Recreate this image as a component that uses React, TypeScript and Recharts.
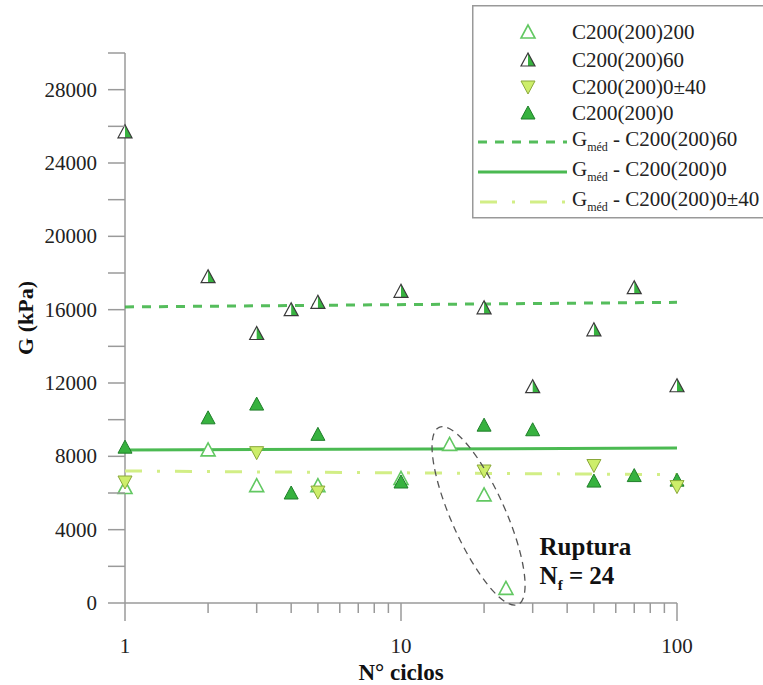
import React from "react"
import { ScatterChart, Scatter, XAxis, YAxis, ReferenceDot } from "recharts"

// N° of cycles for each test series
const cycles200 = [1, 2, 3, 5, 10, 15, 20, 24]
const cycles60 = [1, 2, 3, 4, 5, 10, 20, 30, 50, 70, 100]
const cycles040 = [1, 3, 5, 20, 50, 100]
const cycles0 = [1, 2, 3, 4, 5, 10, 20, 30, 50, 70, 100]

// G (kPa)
const g200 = [6300, 8350, 6400, 6400, 6800, 8650, 5900, 800]
const g60 = [25700, 17800, 14700, 16000, 16400, 17000, 16100, 11800, 14900, 17200, 11850]
const g040 = [6600, 8200, 6050, 7200, 7500, 6350]
const g0 = [8500, 10100, 10850, 6000, 9200, 6600, 9700, 9450, 6650, 6950, 6700]

// mean G lines (start / end)
const medCycles = [1, 100]
const med60 = [16150, 16400]
const med0 = [8350, 8450]
const med040 = [7200, 7000]

const xTicks = [1, 2, 3, 4, 5, 6, 7, 8, 9, 10, 20, 30, 40, 50, 60, 70, 80, 90, 100]
const xLabels = [1, 10, 100]
const yTicks = [0, 2000, 4000, 6000, 8000, 10000, 12000, 14000, 16000, 18000, 20000, 22000, 24000, 26000, 28000, 30000]
const yLabels = [0, 4000, 8000, 12000, 16000, 20000, 24000, 28000]

const legendNames = [
  "C200(200)200",
  "C200(200)60",
  "C200(200)0±40",
  "C200(200)0",
  "C200(200)60",
  "C200(200)0",
  "C200(200)0±40",
]

const toPts = (xs: number[], ys: number[]) => xs.map((x, i) => ({ x, y: ys[i] }))

const FONT = "Liberation Serif"
const AXIS = "#9a9a9a"
const GREEN = "#37b23f"
const DARK_GREEN = "#1f7f2a"
const LIGHT = "#62c862"
const YELLOW = "#cdee6a"
const YELLOW_EDGE = "#8aa83a"
const DASHDOT = "#d2ee86"

const txt = { fontFamily: FONT }

const triPts = (cx: number, cy: number, up = true) => {
  const h = up ? 1 : -1
  return `${cx},${cy - 7 * h} ${cx - 7},${cy + 6 * h} ${cx + 7},${cy + 6 * h}`
}

const Hollow = ({ cx, cy }: any) => (
  <polygon points={triPts(cx, cy)} fill="#fff" stroke={LIGHT} strokeWidth={1.6} />
)
const Half = ({ cx, cy }: any) => (
  <g>
    <polygon points={triPts(cx, cy)} fill="#fff" />
    <polygon points={`${cx},${cy - 7} ${cx + 7},${cy + 6} ${cx},${cy + 6}`} fill={GREEN} />
    <polygon points={triPts(cx, cy)} fill="none" stroke="#3a3a3a" strokeWidth={1.2} />
  </g>
)
const Filled = ({ cx, cy }: any) => (
  <polygon points={triPts(cx, cy)} fill={GREEN} stroke={DARK_GREEN} strokeWidth={1} />
)
const Inverted = ({ cx, cy }: any) => (
  <polygon points={triPts(cx, cy, false)} fill={YELLOW} stroke={YELLOW_EDGE} strokeWidth={1} />
)
const NoDot = () => <g />

const XTick = ({ x, y, payload }: any) => {
  const major = xLabels.includes(payload.value)
  return (
    <g>
      <line x1={x} y1={y} x2={x} y2={y + (major ? 18 : 10)} stroke={AXIS} strokeWidth={1.5} />
      {major && (
        <text x={x} y={y + 50} textAnchor="middle" fontSize={21} style={txt} fill="#222">
          {payload.value}
        </text>
      )}
    </g>
  )
}

const YTick = ({ x, y, payload }: any) => (
  <g>
    <line x1={x - 17} y1={y} x2={x} y2={y} stroke={AXIS} strokeWidth={1.5} />
    {yLabels.includes(payload.value) && (
      <text x={x - 28} y={y + 7} textAnchor="end" fontSize={21} style={txt} fill="#222">
        {payload.value}
      </text>
    )}
  </g>
)

const Rupture = ({ cx, cy }: any) => (
  <g>
    <ellipse
      cx={cx}
      cy={cy}
      rx={27}
      ry={97}
      transform={`rotate(-24 ${cx} ${cy})`}
      fill="none"
      stroke="#555"
      strokeWidth={1.3}
      strokeDasharray="7 5"
    />
    <text x={cx + 61} y={cy + 39} fontSize={25} fontWeight="bold" style={txt} fill="#111">
      Ruptura
    </text>
    <text x={cx + 61} y={cy + 68} fontSize={25} fontWeight="bold" style={txt} fill="#111">
      N<tspan fontSize={15} dy={6}>f</tspan>
      <tspan dy={-6}> = 24</tspan>
    </text>
  </g>
)

const LegendBox = () => {
  const rows = [27, 55, 82, 108, 137, 167, 197]
  const ix = 56
  const tx = 100
  return (
    <svg width={300} height={214} style={{ position: "absolute", left: 472, top: 5 }}>
      <rect x={0.75} y={0.75} width={310} height={212} fill="#fff" stroke="#999" strokeWidth={1.5} />
      <Hollow cx={ix} cy={rows[0]} />
      <Half cx={ix} cy={rows[1]} />
      <Inverted cx={ix} cy={rows[2]} />
      <Filled cx={ix} cy={rows[3]} />
      <line x1={6} x2={95} y1={rows[4]} y2={rows[4]} stroke={GREEN} strokeWidth={3} strokeDasharray="9 8" opacity={0.85} />
      <line x1={6} x2={95} y1={rows[5]} y2={rows[5]} stroke={GREEN} strokeWidth={3} opacity={0.9} />
      <line x1={8} x2={95} y1={rows[6]} y2={rows[6]} stroke={DASHDOT} strokeWidth={3} strokeDasharray="17 15 3 15" />
      {legendNames.map((name, i) =>
        i < 4 ? (
          <text key={i} x={tx} y={rows[i] + 7} fontSize={21} style={txt} fill="#222">
            {name}
          </text>
        ) : (
          <text key={i} x={tx} y={rows[i] + 4} fontSize={21} style={txt} fill="#222">
            G<tspan fontSize={12} dy={5}>méd</tspan>
            <tspan dy={-5}> - {name}</tspan>
          </text>
        )
      )}
    </svg>
  )
}

export default function App() {
  return (
    <div style={{ position: "absolute", left: 0, top: 0, width: 763, height: 685, overflow: "hidden", background: "#fff" }}>
      <ScatterChart width={763} height={685} margin={{ top: 53, right: 86, bottom: 22, left: 0 }}>
        <XAxis
          dataKey="x"
          type="number"
          scale="log"
          domain={[1, 100]}
          ticks={xTicks}
          interval={0}
          height={60}
          tickSize={0}
          tickMargin={0}
          tickLine={false}
          stroke={AXIS}
          strokeWidth={1.5}
          tick={<XTick />}
          label={() => (
            <text x={401} y={680} textAnchor="middle" fontSize={23} fontWeight="bold" style={txt} fill="#111">
              N° ciclos
            </text>
          )}
        />
        <YAxis
          dataKey="y"
          type="number"
          domain={[0, 30000]}
          ticks={yTicks}
          interval={0}
          width={125}
          tickSize={0}
          tickMargin={0}
          tickLine={false}
          stroke={AXIS}
          strokeWidth={1.5}
          tick={<YTick />}
          label={() => (
            <text
              x={0}
              y={0}
              transform="translate(33 318) rotate(-90)"
              textAnchor="middle"
              fontSize={22}
              fontWeight="bold"
              style={txt}
              fill="#111"
            >
              G (kPa)
            </text>
          )}
        />
        <Scatter data={toPts(medCycles, med60)} line={{ stroke: GREEN, strokeWidth: 3, strokeDasharray: "9 8", opacity: 0.85 }} shape={<NoDot />} isAnimationActive={false} />
        <Scatter data={toPts(medCycles, med0)} line={{ stroke: GREEN, strokeWidth: 3, opacity: 0.9 }} shape={<NoDot />} isAnimationActive={false} />
        <Scatter data={toPts(medCycles, med040)} line={{ stroke: DASHDOT, strokeWidth: 3, strokeDasharray: "17 15 3 15" }} shape={<NoDot />} isAnimationActive={false} />
        <Scatter data={toPts(cycles200, g200)} shape={<Hollow />} isAnimationActive={false} />
        <Scatter data={toPts(cycles60, g60)} shape={<Half />} isAnimationActive={false} />
        <Scatter data={toPts(cycles0, g0)} shape={<Filled />} isAnimationActive={false} />
        <Scatter data={toPts(cycles040, g040)} shape={<Inverted />} isAnimationActive={false} />
        <ReferenceDot x={19.1} y={4750} r={0} shape={<Rupture />} ifOverflow="visible" />
      </ScatterChart>
      <LegendBox />
    </div>
  )
}
